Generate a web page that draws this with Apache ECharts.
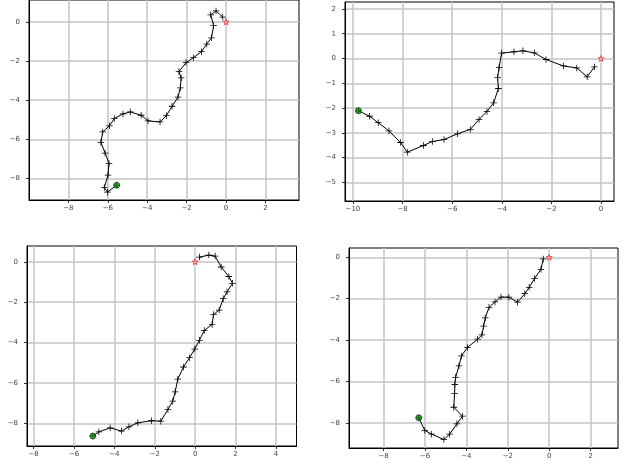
<!DOCTYPE html>
<html>
<head>
<meta charset="utf-8">
<script src="https://cdn.jsdelivr.net/npm/echarts@6/dist/echarts.min.js"></script>
<style>
  html,body{margin:0;padding:0;background:#fff;}
  #main{width:624px;height:466px;}
</style>
</head>
<body>
<div id="main"></div>
<script>
// four random-walk style paths (start is the red star at 0,0)
var pathA = [[-0.17,0.25],[-0.51,0.56],[-0.78,0.36],[-0.63,-0.19],[-0.74,-0.81],[-0.98,-1.13],[-1.25,-1.52],[-1.66,-1.83],[-2.03,-2.08],[-2.39,-2.54],[-2.28,-2.86],[-2.32,-3.37],[-2.44,-3.84],[-2.74,-4.31],[-3.03,-4.79],[-3.35,-5.11],[-3.96,-5.06],[-4.31,-4.77],[-4.86,-4.60],[-5.23,-4.70],[-5.67,-4.94],[-5.92,-5.31],[-6.26,-5.62],[-6.35,-6.16],[-6.14,-6.70],[-5.94,-7.23],[-5.99,-7.83],[-6.18,-8.46],[-6.02,-8.70],[-5.55,-8.34]];
var pathB = [[-0.27,-0.34],[-0.56,-0.74],[-0.98,-0.38],[-1.52,-0.30],[-2.22,-0.04],[-2.69,0.23],[-3.15,0.31],[-3.51,0.27],[-4.01,0.22],[-4.11,-0.36],[-4.17,-0.77],[-4.14,-1.21],[-4.33,-1.79],[-4.60,-2.14],[-4.92,-2.46],[-5.27,-2.86],[-5.79,-3.04],[-6.33,-3.27],[-6.80,-3.35],[-7.16,-3.51],[-7.81,-3.78],[-8.08,-3.39],[-8.55,-2.92],[-8.98,-2.59],[-9.33,-2.33],[-9.78,-2.11]];
var pathC = [[0.21,0.23],[0.68,0.33],[0.99,0.28],[1.29,-0.26],[1.67,-0.73],[1.85,-1.07],[1.58,-1.49],[1.39,-1.83],[1.19,-2.39],[0.91,-2.61],[0.84,-3.10],[0.45,-3.40],[0.21,-3.89],[-0.02,-4.32],[-0.28,-4.75],[-0.58,-5.21],[-0.86,-5.81],[-0.99,-6.44],[-1.11,-6.90],[-1.35,-7.31],[-1.70,-7.89],[-2.16,-7.87],[-2.84,-7.97],[-3.28,-8.17],[-3.65,-8.38],[-4.21,-8.22],[-4.77,-8.42],[-5.07,-8.63]];
var pathD = [[-0.29,-0.08],[-0.40,-0.58],[-0.71,-1.03],[-0.97,-1.45],[-1.18,-1.76],[-1.53,-2.17],[-1.95,-1.93],[-2.33,-1.92],[-2.62,-2.16],[-2.91,-2.42],[-3.09,-2.93],[-3.17,-3.33],[-3.25,-3.75],[-3.46,-3.96],[-3.95,-4.36],[-4.24,-4.77],[-4.36,-5.25],[-4.52,-5.80],[-4.56,-6.15],[-4.57,-6.59],[-4.61,-7.25],[-4.19,-7.68],[-4.46,-8.05],[-4.81,-8.55],[-5.09,-8.81],[-5.68,-8.55],[-6.01,-8.37],[-6.30,-7.76]];

var ticksAX = [-8,-6,-4,-2,0,2];
var ticksAY = [0,-2,-4,-6,-8];
var ticksBX = [-10,-8,-6,-4,-2,0];
var ticksBY = [2,1,0,-1,-2,-3,-4,-5];
var ticksCX = [-8,-6,-4,-2,0,2,4];
var ticksCY = [0,-2,-4,-6,-8];
var ticksDX = [-8,-6,-4,-2,0,2];
var ticksDY = [0,-2,-4,-6,-8];

var page = {
  init:function (){
    this.chart = echarts.init(document.getElementById('main'));
    this.draw();
  },
  fmt:function (v){
    return (v < 0 ? '\u2212' : '') + Math.abs(v);
  },
  axis:function (idx, isX, min, max, ticks){
    return {
      type:'value',
      gridIndex:idx,
      min:min,
      max:max,
      position:isX ? 'bottom' : 'left',
      axisLine:{show:true, onZero:false, lineStyle:{color:'#000', width:1}},
      axisTick:{show:true, length:3, customValues:ticks, lineStyle:{color:'#000', width:0.8}},
      axisLabel:{
        customValues:ticks,
        formatter:this.fmt,
        fontFamily:'DejaVu Sans',
        fontSize:7,
        color:'#444',
        margin:isX ? 5 : 9
      },
      splitLine:{show:true, lineStyle:{color:'#c4c4c4', width:1.5}}
    };
  },
  walk:function (idx, data){
    var star = 'path://M0,-1L0.2245,-0.309L0.951,-0.309L0.363,0.118L0.588,0.809L0,0.382L-0.588,0.809L-0.363,0.118L-0.951,-0.309L-0.2245,-0.309Z';
    var plus = 'path://M-0.12,-1H0.12V-0.12H1V0.12H0.12V1H-0.12V0.12H-1V-0.12H-0.12Z';
    var last = data[data.length - 1];
    return [
      {
        type:'line', xAxisIndex:idx, yAxisIndex:idx, data:data,
        symbol:plus, symbolSize:6.5, showAllSymbol:true,
        lineStyle:{color:'#000', width:1}, itemStyle:{color:'#000'},
        animation:false, silent:true, z:3
      },
      {
        type:'scatter', xAxisIndex:idx, yAxisIndex:idx, data:[[0,0]],
        symbol:star, symbolSize:6,
        itemStyle:{color:'#fbb4b4', borderColor:'#e8262b', borderWidth:0.9},
        animation:false, silent:true, z:4
      },
      {
        type:'scatter', xAxisIndex:idx, yAxisIndex:idx, data:[last],
        symbol:'circle', symbolSize:6,
        itemStyle:{color:'#0a8a0a', borderColor:'#000', borderWidth:0.6},
        animation:false, silent:true, z:5
      }
    ];
  },
  draw:function (){
    var frame = {show:true, borderColor:'#000', borderWidth:1, backgroundColor:'transparent'};
    var option = {
      backgroundColor:'#fff',
      animation:false,
      grid:[
        $.extend({left:29, top:-2, width:270, height:202}, frame),
        $.extend({left:345, top:2, width:269, height:199}, frame),
        $.extend({left:27, top:246, width:269.5, height:200}, frame),
        $.extend({left:349, top:248, width:269, height:200}, frame)
      ],
      xAxis:[
        this.axis(0, true, -10.0, 3.7, ticksAX),
        this.axis(1, true, -10.32, 0.52, ticksBX),
        this.axis(2, true, -8.33, 5.02, ticksCX),
        this.axis(3, true, -9.67, 3.32, ticksDX)
      ],
      yAxis:[
        this.axis(0, false, -9.1, 1.12, ticksAY),
        this.axis(1, false, -5.75, 2.28, ticksBY),
        this.axis(2, false, -9.12, 0.78, ticksCY),
        this.axis(3, false, -9.22, 0.45, ticksDY)
      ],
      series:[].concat(
        this.walk(0, pathA),
        this.walk(1, pathB),
        this.walk(2, pathC),
        this.walk(3, pathD)
      )
    };
    this.chart.setOption(option);
  }
};

// tiny stand-in for the jQuery extend helper
var $ = {extend:function (a, b){ for (var k in b){ a[k] = b[k]; } return a; }};

page.init();
</script>
</body>
</html>
